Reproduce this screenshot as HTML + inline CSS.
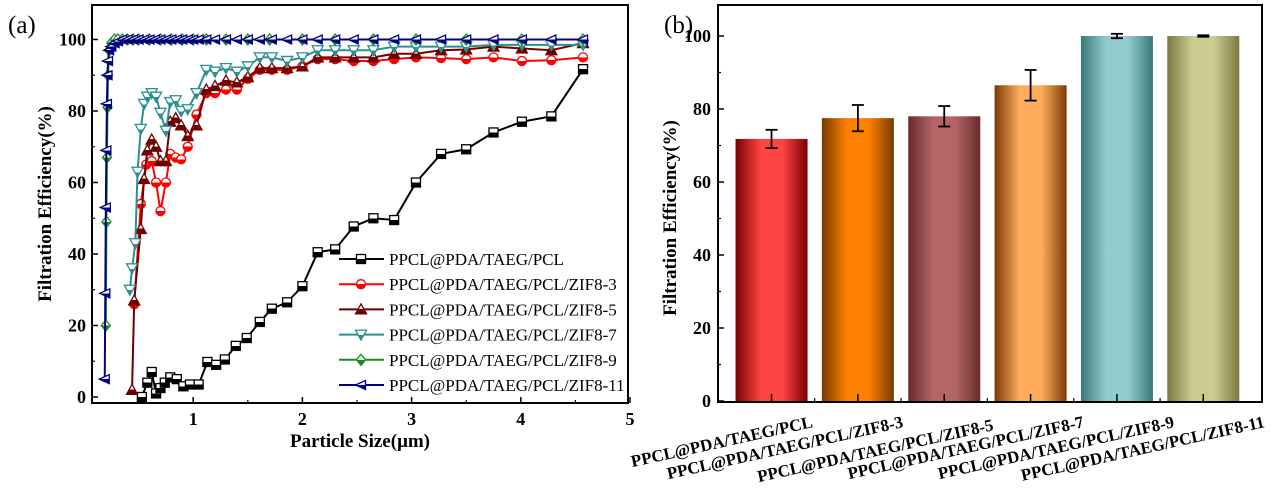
<!DOCTYPE html>
<html><head><meta charset="utf-8">
<style>
html,body{margin:0;padding:0;background:#fff;}
svg{display:block;font-family:"Liberation Serif",serif;}
</style></head>
<body>
<svg id="fig" width="1272" height="494" viewBox="0 0 1272 494">
<defs id="defs"></defs>
<g id="left"></g>
<g id="right"></g>
</svg>
<script>
// ---------- Chart (a) data ----------
const seriesNames = ["PPCL@PDA/TAEG/PCL","PPCL@PDA/TAEG/PCL/ZIF8-3","PPCL@PDA/TAEG/PCL/ZIF8-5","PPCL@PDA/TAEG/PCL/ZIF8-7","PPCL@PDA/TAEG/PCL/ZIF8-9","PPCL@PDA/TAEG/PCL/ZIF8-11"];
const blackX = [0.53,0.58,0.62,0.66,0.70,0.74,0.79,0.85,0.91,0.97,1.05,1.13,1.21,1.29,1.39,1.49,1.61,1.72,1.86,2.0,2.14,2.3,2.47,2.65,2.84,3.04,3.27,3.5,3.75,4.01,4.28,4.57];
const blackY = [0,4,7,1,2.5,4,5.5,5,3,3.5,3.5,9.8,9,10.5,14.3,16.5,21,24.7,26.5,31,40.5,41.3,47.7,50,49.5,60,68,69.3,74,77,78.5,91.7];
const redX = [0.46,0.52,0.57,0.62,0.66,0.70,0.75,0.79,0.84,0.89,0.95,1.03,1.12,1.2,1.3,1.4,1.5,1.61,1.72,1.86,2.0,2.14,2.3,2.47,2.65,2.84,3.04,3.27,3.5,3.75,4.01,4.28,4.57];
const redY = [26,54,65,66,60,52,60,68,67,66.5,70,79,85,85,86,86,89,91.5,91.5,91.5,92.5,94.5,94.5,94,94,94.5,95,94.8,94.5,95,94,94.2,95];
const brownX = [0.44,0.46,0.52,0.55,0.58,0.62,0.66,0.70,0.75,0.79,0.84,0.89,0.95,1.03,1.12,1.2,1.3,1.4,1.5,1.61,1.72,1.86,2.0,2.14,2.3,2.47,2.65,2.84,3.04,3.27,3.5,3.75,4.01,4.28,4.57];
const brownY = [2,27,47,61,69,72,70,66,66,77,78,76,73,76,86,87,88.5,88,89.5,92,92,92,92.5,95,95,95,95,96,96,97,97.2,98,97.5,97,99];
const cyanX = [0.42,0.44,0.47,0.49,0.52,0.55,0.58,0.62,0.66,0.70,0.75,0.79,0.84,0.89,0.95,1.03,1.12,1.2,1.3,1.4,1.5,1.61,1.72,1.86,2.0,2.14,2.3,2.47,2.65,2.84,3.04,3.27,3.5,3.75,4.01,4.28,4.57];
const cyanY = [30,36,43,63,75,82,84,85,84,79.5,74.5,82.5,83,80,80.5,85,91.5,91,92,91,92.5,95,95,94,95,97,97,97,97,98,98,98,98,98.5,98.5,98.5,98.5];
const greenX = [0.2,0.205,0.21,0.215,0.22,0.23,0.25,0.28,0.31,0.35,0.4,0.45,0.5,0.6,0.7,0.8,0.9,1.0,1.12,1.3,1.5,1.7,2.0,2.3,2.65,3.04,3.5,4.01,4.57];
const greenY = [20,49,67,81,90,97,99,100,100,100,100,100,100,100,100,100,100,100,100,100,100,100,100,100,100,100,100,100,100];
const blueX = [0.19,0.195,0.2,0.205,0.21,0.215,0.22,0.23,0.25,0.28,0.31,0.35,0.4,0.45,0.5,0.55,0.6,0.65,0.7,0.75,0.8,0.85,0.9,0.95,1.0,1.05,1.12,1.2,1.3,1.4,1.5,1.61,1.72,1.86,2.0,2.14,2.3,2.47,2.65,2.84,3.04,3.27,3.5,3.75,4.01,4.28,4.57];
const blueY = [5,29,53,69,82,90,94,97,98,99,99.5,100,100,100,100,100,100,100,100,100,100,100,100,100,100,100,100,100,100,100,100,100,100,100,100,100,100,100,100,100,100,100,100,100,100,100,100];
const xTicksA = [1,2,3,4,5];
const yTicksA = [0,20,40,60,80,100];

// ---------- Chart (b) data ----------
const barCats = ["PPCL@PDA/TAEG/PCL","PPCL@PDA/TAEG/PCL/ZIF8-3","PPCL@PDA/TAEG/PCL/ZIF8-5","PPCL@PDA/TAEG/PCL/ZIF8-7","PPCL@PDA/TAEG/PCL/ZIF8-9","PPCL@PDA/TAEG/PCL/ZIF8-11"];
const barVals = [71.8,77.5,78,86.5,100,100];
const barErrs = [2.5,3.6,2.8,4.2,0.6,0.2];
const yTicksB = [0,20,40,60,80,100];

const NS="http://www.w3.org/2000/svg";
function mk(tag,attrs,parent){const e=document.createElementNS(NS,tag);for(const k in attrs)e.setAttribute(k,attrs[k]);if(parent)parent.appendChild(e);return e;}
const defs=document.getElementById('defs');

// ===== Chart A =====
const L=document.getElementById('left');
const ax={x0:92,x1:628,y0:5,y1:403};
const xA=v=>84+v*109.2;
const yA=v=>397-v*3.575;
mk('rect',{x:ax.x0,y:ax.y0,width:ax.x1-ax.x0,height:ax.y1-ax.y0,fill:'none',stroke:'#000','stroke-width':2},L);
xTicksA.forEach(t=>{
  const px=xA(t);
  mk('line',{x1:px,x2:px,y1:ax.y1,y2:ax.y1-6,stroke:'#000','stroke-width':1.5},L);
  const lb=mk('text',{x:px,y:ax.y1+22,'text-anchor':'middle','font-size':18,'font-weight':'bold'},L);
  lb.textContent=t;
  
  
  mk('line',{x1:xA(t-0.5),x2:xA(t-0.5),y1:ax.y1,y2:ax.y1-3,stroke:'#000','stroke-width':1.2},L);
});
yTicksA.forEach(t=>{
  const py=yA(t);
  mk('line',{x1:ax.x0,x2:ax.x0+6,y1:py,y2:py,stroke:'#000','stroke-width':1.5},L);
  if(t<100) mk('line',{x1:ax.x0,x2:ax.x0+3,y1:yA(t+10),y2:yA(t+10),stroke:'#000','stroke-width':1.2},L);
  const lb=mk('text',{x:ax.x0-6,y:py+6,'text-anchor':'end','font-size':18,'font-weight':'bold'},L);
  lb.textContent=t;
  
  
});
const yt=mk('text',{x:0,y:0,transform:'translate(51,204) rotate(-90)','text-anchor':'middle','font-size':19,'font-weight':'bold'},L);
yt.textContent='Filtration Efficiency(%)';


const xt=mk('text',{x:360,y:447,'text-anchor':'middle','font-size':19,'font-weight':'bold'},L);
xt.textContent='Particle Size(\u03bcm)';


const pa=mk('text',{x:8,y:33,'font-size':25},L);
pa.textContent='(a)';



function grad(id,c){
  const g=mk('linearGradient',{id:id,x1:0,y1:0,x2:0,y2:1},defs);
  mk('stop',{offset:'50%','stop-color':'#fff'},g);
  mk('stop',{offset:'50%','stop-color':c},g);
}
function marker(g,shape,x,y,c,fill){
  const s=4.5;let e;
  if(shape==='sq') e=mk('rect',{x:x-s,y:y-s,width:2*s,height:2*s},g);
  else if(shape==='ci') e=mk('circle',{cx:x,cy:y,r:s},g);
  else if(shape==='tu') e=mk('polygon',{points:`${x},${y-s-1} ${x-s-1},${y+s} ${x+s+1},${y+s}`},g);
  else if(shape==='td') e=mk('polygon',{points:`${x},${y+s+1} ${x-s-1},${y-s} ${x+s+1},${y-s}`},g);
  else if(shape==='di') e=mk('polygon',{points:`${x},${y-s-1} ${x+s},${y} ${x},${y+s+1} ${x-s},${y}`},g);
  else e=mk('polygon',{points:`${x-s-1},${y} ${x+s},${y-s} ${x+s},${y+s}`},g);
  e.setAttribute('fill',fill);e.setAttribute('stroke',c);e.setAttribute('stroke-width',1.3);
  return e;
}
const series=[
  {xs:blackX,ys:blackY,c:'#000',m:'sq',n:'black'},
  {xs:redX,ys:redY,c:'#ff0000',m:'ci',n:'red'},
  {xs:brownX,ys:brownY,c:'#700000',m:'tu',n:'brown'},
  {xs:cyanX,ys:cyanY,c:'#2a9090',m:'td',n:'teal'},
  {xs:greenX,ys:greenY,c:'#1a8a1a',m:'di',n:'green'},
  {xs:blueX,ys:blueY,c:'#000080',m:'tl',n:'blue'}
];
series.forEach((s,i)=>{
  grad('g'+i,s.c);
  const g=mk('g',{},L);
  
  
  const pts=s.xs.map((x,j)=>xA(x)+','+yA(s.ys[j])).join(' ');
  mk('polyline',{points:pts,fill:'none',stroke:s.c,'stroke-width':2},g);
  s.xs.forEach((x,j)=>{
    const m=marker(g,s.m,xA(x),yA(s.ys[j]),s.c,'url(#g'+i+')');
    
    
  });
  const ly=259+i*25.2;
  const lg=mk('g',{},L);
  
  
  mk('line',{x1:339,x2:384,y1:ly,y2:ly,stroke:s.c,'stroke-width':2},lg);
  marker(lg,s.m,361,ly,s.c,'url(#g'+i+')');
  const t=mk('text',{x:389,y:ly+6,'font-size':17},lg);
  t.textContent=seriesNames[i];
});

// ===== Chart B =====
const R=document.getElementById('right');
const bx={x0:718,x1:1262,y0:5,y1:402};
const yB=v=>401-v*3.65;
const slot=(bx.x1-bx.x0)/6.3;
const xB=i=>bx.x0+slot*0.62+i*slot;
const barCols=[['#ff4444','#7a0000'],['#ff8000','#7a3c00'],['#b46666','#6a2a2a'],['#ffad5c','#7a3a08'],['#93cccc','#3a7a7a'],['#cccc90','#787840']];
barCols.forEach((c,i)=>{
  const g=mk('linearGradient',{id:'bg'+i,x1:0,y1:0,x2:1,y2:0},defs);
  mk('stop',{offset:'0%','stop-color':c[1]},g);
  mk('stop',{offset:'35%','stop-color':c[0]},g);
  mk('stop',{offset:'65%','stop-color':c[0]},g);
  mk('stop',{offset:'100%','stop-color':c[1]},g);
});
mk('rect',{x:bx.x0,y:bx.y0,width:bx.x1-bx.x0,height:bx.y1-bx.y0,fill:'none',stroke:'#000','stroke-width':2},R);
const bw=72;
barVals.forEach((v,i)=>{
  const cx=xB(i);
  const b=mk('rect',{x:cx-bw/2,y:yB(v),width:bw,height:yB(0)-yB(v),fill:'url(#bg'+i+')'},R);
  
  
  const e=barErrs[i];
  const eg=mk('g',{stroke:'#000','stroke-width':1.8},R);
  
  
  mk('line',{x1:cx,x2:cx,y1:yB(v+e),y2:yB(v-e)},eg);
  mk('line',{x1:cx-6,x2:cx+6,y1:yB(v+e),y2:yB(v+e)},eg);
  mk('line',{x1:cx-6,x2:cx+6,y1:yB(v-e),y2:yB(v-e)},eg);
  mk('line',{x1:cx,x2:cx,y1:bx.y1,y2:bx.y1-8,stroke:'#000','stroke-width':1.5},R);
  if(i<5) mk('line',{x1:cx+slot/2,x2:cx+slot/2,y1:bx.y1,y2:bx.y1-4,stroke:'#000','stroke-width':1.2},R);
  const t=mk('text',{x:0,y:0,transform:`translate(${cx+42+i*4},${427+(i===2?3:0)}) rotate(-12.5)`,'text-anchor':'end','font-size':17,'font-weight':'bold'},R);
  t.textContent=barCats[i];
  
  
});
yTicksB.forEach(t=>{
  const py=yB(t);
  mk('line',{x1:bx.x0,x2:bx.x0+6,y1:py,y2:py,stroke:'#000','stroke-width':1.5},R);
  if(t<100) mk('line',{x1:bx.x0,x2:bx.x0+3,y1:yB(t+10),y2:yB(t+10),stroke:'#000','stroke-width':1.2},R);
  const lb=mk('text',{x:bx.x0-7,y:py+6,'text-anchor':'end','font-size':18,'font-weight':'bold'},R);
  lb.textContent=t;
  
  
});
const yt2=mk('text',{x:0,y:0,transform:'translate(676,218) rotate(-90)','text-anchor':'middle','font-size':19,'font-weight':'bold'},R);
yt2.textContent='Filtration Efficiency(%)';


const pb=mk('text',{x:664,y:33,'font-size':25},R);
pb.textContent='(b)';


</script>
</body></html>
